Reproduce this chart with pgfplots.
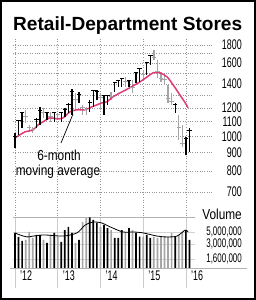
\documentclass[border=0pt]{standalone}
\usepackage{pgfplots}
\pgfplotsset{compat=1.18}
\usepackage{fontspec}
\setmainfont{Liberation Sans}
\newfontfamily\numfont[FakeStretch=0.64]{Liberation Sans}
\newfontfamily\txtfont[FakeStretch=0.82]{Liberation Sans}
\definecolor{pinkma}{RGB}{222,60,120}
\definecolor{gbar}{RGB}{165,165,165}
\definecolor{gridc}{RGB}{150,150,150}
\begin{document}
\begin{tikzpicture}
\useasboundingbox (0bp,0bp) rectangle (256bp,300bp);
\fill[white] (0bp,0bp) rectangle (256bp,300bp);
% ---------------- price panel ----------------
\begin{axis}[
 at={(13bp,94.1bp)}, anchor=south west, scale only axis,
 width=200bp, height=167bp,
 xmin=-0.56, xmax=55.6, ymode=log, ymin=640, ymax=1870,
 axis line style={draw=none}, major tick length=0pt,
 xtick=\empty,
 ytick={700,800,900,1000,1100,1200,1300,1400,1500,1600,1700,1800},
 yticklabels={700,800,900,1000,1100,1200,,1400,,1600,,1800},
 yticklabel pos=right,
 yticklabel style={anchor=east, xshift=29bp, inner sep=0pt, font=\fontsize{14}{14}\numfont},
 ymajorgrids, grid style={gridc, dotted, line width=0.6bp},
 clip=false, unbounded coords=jump,
]
\pgfplotsinvokeforeach{0,12,24,36,48}{
  \draw[gridc, dotted, line width=0.6bp] (axis cs:#1,1870) -- ([yshift=-11bp]axis cs:#1,640);
}
% gray (down) bars
\addplot[gbar, line width=1.3bp] coordinates {
(3,1091) (3,1186) (3,nan)
(4,1029) (4,1077) (4,nan)
(5,1023) (5,1063) (5,nan)
(8,1126) (8,1201) (8,nan)
(10,1098) (10,1170) (10,nan)
(12,1112) (12,1163) (12,nan)
(17,1186) (17,1322) (17,nan)
(19,1148) (19,1224) (19,nan)
(20,1148) (20,1209) (20,nan)
(24,1186) (24,1322) (24,nan)
(27,1264) (27,1331) (27,nan)
(31,1374) (31,1465) (31,nan)
(33,1322) (33,1437) (33,nan)
(36,1437) (36,1533) (36,nan)
(39,1634) (39,1743) (39,nan)
(40,1456) (40,1634) (40,nan)
(41,1419) (41,1513) (41,nan)
(42,1392) (42,1484) (42,nan)
(43,1240) (43,1392) (43,nan)
(44,1224) (44,1322) (44,nan)
(46,978) (46,1148) (46,nan)
(47,935) (47,1077) (47,nan)
};
\addplot[gbar, only marks, mark=-, mark size=2.2bp, mark options={line width=1bp}] coordinates {
(3,1133) (4,1056) (5,1043) (8,1163) (10,1133) (12,1148) (17,1264) (19,1201) (20,1186)
(24,1281) (27,1289) (31,1419) (33,1365) (36,1484) (39,1656) (40,1513) (41,1447)
(42,1437) (43,1272) (44,1248) (46,1056) (47,953)
};
% 6-month moving average
\addplot[pinkma, line width=1.5bp, smooth] coordinates {
(0,990) (1.4,1010) (2.8,1029) (5.1,1043) (6.5,1077) (7.9,1098) (9.8,1126) (11.8,1119)
(13.5,1126) (15.4,1170) (17.4,1186) (19.7,1186) (21.6,1209) (23,1224) (24.4,1240)
(25.8,1248) (27.5,1289) (29.5,1322) (31.7,1357) (35.1,1419) (37.1,1465) (38.8,1504)
(40.7,1504) (42.7,1465) (44.4,1392) (46.3,1305) (47.8,1240) (48.6,1201)
};
% black (up) bars
\addplot[black, line width=1.3bp] coordinates {
(0,929) (0,1023) (0,nan)
(1,1010) (1,1112) (1,nan)
(2,1056) (2,1170) (2,nan)
(6,1056) (6,1126) (6,nan)
(7,1077) (7,1209) (7,nan)
(9,1112) (9,1170) (9,nan)
(11,1098) (11,1170) (11,nan)
(13,1098) (13,1170) (13,nan)
(14,1133) (14,1201) (14,nan)
(15,1163) (15,1240) (15,nan)
(16,1148) (16,1357) (16,nan)
(18,1240) (18,1331) (18,nan)
(21,1170) (21,1264) (21,nan)
(22,1209) (22,1348) (22,nan)
(23,1264) (23,1348) (23,nan)
(25,1148) (25,1305) (25,nan)
(26,1224) (26,1305) (26,nan)
(28,1331) (28,1419) (28,nan)
(29,1374) (29,1437) (29,nan)
(30,1374) (30,1456) (30,nan)
(32,1374) (32,1437) (32,nan)
(34,1410) (34,1513) (34,nan)
(35,1419) (35,1553) (35,nan)
(37,1484) (37,1614) (37,nan)
(38,1583) (38,1688) (38,nan)
(45,1163) (45,1240) (45,nan)
(48,888) (48,997) (48,nan)
(49,905) (49,1056) (49,nan)
};
\addplot[black, only marks, mark=-, mark size=2.2bp, mark options={line width=1bp}] coordinates {
(0,997) (1,1105) (2,1163) (6,1112) (7,1178) (9,1168) (11,1163) (13,1163) (14,1186)
(15,1224) (16,1331) (18,1305) (21,1240) (22,1339) (23,1331) (25,1297) (26,1297)
(28,1410) (29,1428) (30,1447) (32,1432) (34,1504) (35,1543) (37,1603) (38,1677)
(45,1224) (48,984) (49,1036)
};
\end{axis}
% ---------------- volume panel ----------------
\begin{axis}[
 at={(13bp,32bp)}, anchor=south west, scale only axis,
 width=182bp, height=51bp,
 xmin=-0.56, xmax=50.56, ymode=log, ymin=1.09, ymax=9.4, log origin y=infty,
 axis line style={draw=none}, major tick length=0pt,
 xtick={0,12,24,36,48}, xticklabels={’12,’13,’14,’15,’16},
 xticklabel style={anchor=north west, xshift=5bp, yshift=-3bp, inner sep=0pt, font=\fontsize{14}{14}\numfont},
 ytick={1.6,3,5}, yticklabels={{1,600,000},{3,000,000},{5,000,000}},
 yticklabel pos=right,
 yticklabel style={anchor=east, xshift=47bp, inner sep=0pt, font=\fontsize{12.5}{12.5}\numfont},
 ymajorgrids, grid style={gray!35, line width=0.6bp},
 clip=false,
]
\pgfplotsinvokeforeach{0,12,24,36,48}{
  \draw[gray!40, line width=0.6bp] (axis cs:#1,9.4) -- ([yshift=-20bp]axis cs:#1,1.09);
}
\draw[gray!60, line width=0.8bp] (rel axis cs:0,1) -- (rel axis cs:1,1);
\draw[gray!60, line width=0.8bp] (rel axis cs:-0.0165,0) -- (rel axis cs:1.286,0);
\addplot[ybar, bar width=1.7bp, bar shift=0pt, fill=gbar, draw=none] coordinates {
(3,3.57) (4,5.0) (5,3.88) (8,3.57) (10,4.4) (12,4.05) (17,3.14) (19,7.6) (20,9.0)
(24,6.2) (27,5.4) (31,5.0) (33,5.4) (36,4.1) (39,4.1) (40,3.9) (41,4.1) (42,4.1)
(43,4.1) (44,4.8) (46,4.4) (47,5.0)
};
\addplot[ybar, bar width=1.7bp, bar shift=0pt, fill=black, draw=none] coordinates {
(0,4.8) (1,4.05) (2,3.42) (6,4.4) (7,4.4) (9,3.14) (11,4.8) (13,3.28) (14,5.4)
(15,6.2) (16,4.8) (18,3.57) (21,9.3) (22,8.3) (23,7.3) (25,6.7) (26,5.9) (28,3.9)
(29,3.9) (30,5.4) (32,5.9) (34,4.8) (35,4.1) (37,4.4) (38,3.9) (45,4.05) (48,5.4)
(49,3.57)
};
\addplot[black, line width=0.8bp, smooth] coordinates {
(0,4.8) (1.4,4.4) (3.4,4.05) (5.1,4.2) (8.4,4.4) (13.5,4.2) (17.4,4.8) (19.7,6.7)
(21.9,7.6) (24.4,7.3) (26.7,6.2) (30.3,5.0) (33.1,5.0) (36,4.8) (39.9,4.2) (42.7,4.05)
(45.5,4.2) (47.8,5.4) (48.6,5.0)
};
\end{axis}
% ---------------- texts ----------------
\node[anchor=base west, inner sep=0pt] at (13bp,269.5bp)
  {\resizebox{229bp}{!}{\fontsize{19.5}{20}\selectfont\bfseries Retail-Department Stores}};
\node[anchor=base, inner sep=0pt, font=\fontsize{14.5}{14.5}\txtfont] at (59bp,139bp) {6-month};
\node[anchor=base, inner sep=0pt, font=\fontsize{14.5}{14.5}\txtfont] at (58bp,124bp) {moving average};
\draw[line width=0.7bp] (61bp,157bp) -- (73bp,186bp);
\node[anchor=base east, inner sep=0pt, font=\fontsize{14.5}{14.5}\txtfont] at (242bp,80bp) {Volume};
\draw[line width=2.2bp] (1.1bp,1.1bp) rectangle (254.9bp,298.9bp);
\end{tikzpicture}
\end{document}
